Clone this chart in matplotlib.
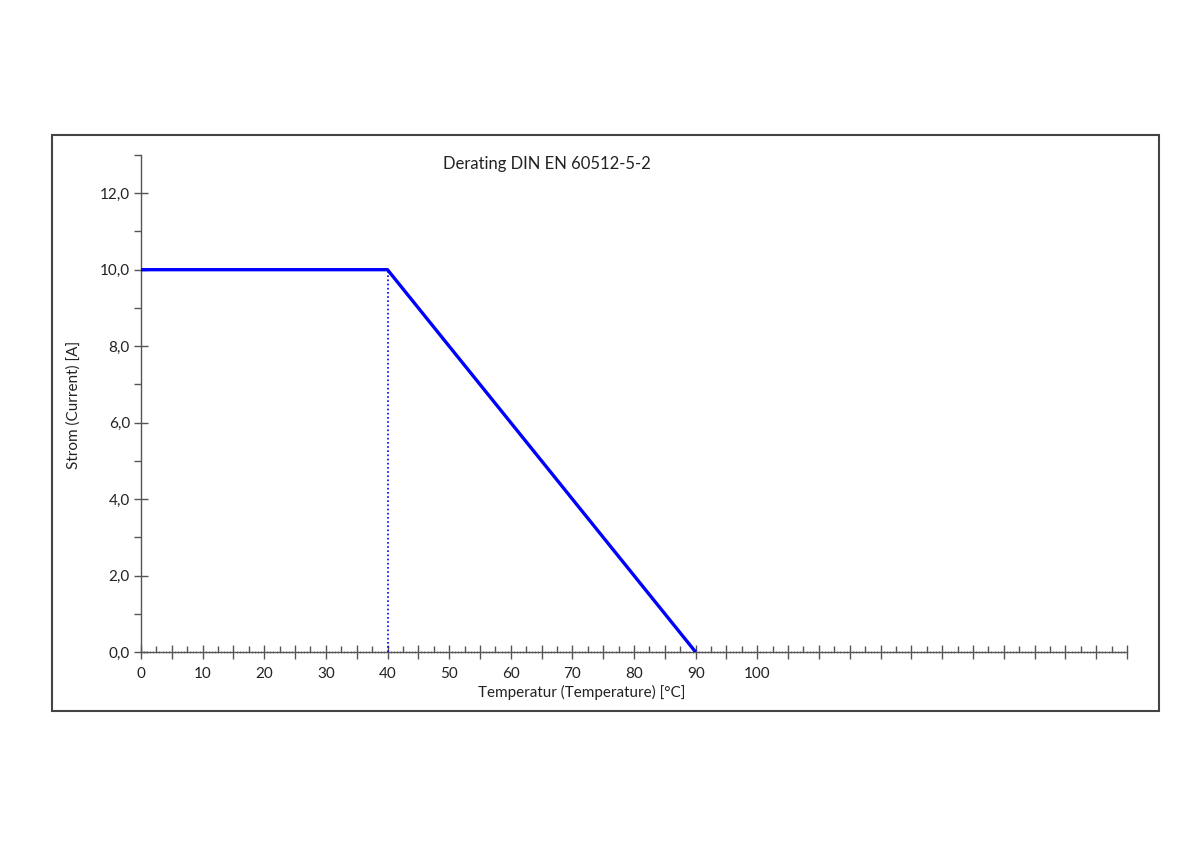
import matplotlib
matplotlib.use("Agg")
import matplotlib.pyplot as plt
from matplotlib.ticker import MultipleLocator, FixedLocator, FuncFormatter
import numpy as np

temperature = [0, 40, 90]
current = [10.0, 10.0, 0.0]
knee_temp = [40, 40]
knee_current = [0.0, 10.0]
x_label_ticks = [0, 10, 20, 30, 40, 50, 60, 70, 80, 90, 100]
title = "Derating DIN EN 60512-5-2"
xlabel = "Temperatur (Temperature) [°C]"
ylabel = "Strom (Current) [A]"

plt.rcParams['font.family'] = ['Lato', 'DejaVu Sans']
txt = '#222222'
axc = '#555555'

fig = plt.figure(figsize=(12, 8.48), dpi=100)
# outer frame
fig.patches.append(plt.Rectangle((52/1200, 1-711/848), (1159-52)/1200, (711-135)/848,
                                 transform=fig.transFigure, fill=False,
                                 edgecolor='#444444', linewidth=1.5))

ax = fig.add_axes([141/1200, 1-652/848, (1127-141)/1200, (652-155)/848])
ax.set_xlim(0, 160)
ax.set_ylim(0, 13)

ax.plot(knee_temp, knee_current, color='#0000FF', linestyle=(0, (1, 1.5)), linewidth=1.2, zorder=3)
ax.plot(temperature, current, color='#0000FF', linewidth=2.4, solid_capstyle='butt', zorder=4)

for s in ['top', 'right']:
    ax.spines[s].set_visible(False)
for s in ['left', 'bottom']:
    ax.spines[s].set_color(axc)
    ax.spines[s].set_linewidth(1.0)

# x ticks
ax.xaxis.set_major_locator(MultipleLocator(5))
ax.xaxis.set_minor_locator(MultipleLocator(2.5))
ax.xaxis.set_major_formatter(FuncFormatter(
    lambda v, p: f"{int(round(v))}" if (round(v) in x_label_ticks and abs(v - round(v)) < 1e-6) else ""))
ax.tick_params(axis='x', which='major', direction='inout', length=10, width=1.0, color=axc,
               labelsize=11, labelcolor=txt, pad=6)
ax.tick_params(axis='x', which='minor', direction='in', length=4, width=1.0, color=axc)

# tiny texture ticks on x axis
sec = ax.secondary_xaxis(0)
sec.xaxis.set_major_locator(MultipleLocator(0.5))
sec.tick_params(axis='x', which='major', direction='inout', length=2, width=0.6, color='#777777',
                labelbottom=False)
sec.spines['bottom'].set_visible(False)
sec.xaxis.set_minor_locator(FixedLocator([]))

# y ticks
ax.yaxis.set_major_locator(MultipleLocator(2))
ax.yaxis.set_minor_locator(MultipleLocator(1))
ax.yaxis.set_major_formatter(FuncFormatter(lambda v, p: f"{v:.1f}".replace('.', ',')))
ax.tick_params(axis='y', which='major', direction='inout', length=10, width=1.0, color=axc,
               labelsize=11, labelcolor=txt, pad=3)
ax.tick_params(axis='y', which='minor', direction='out', length=5, width=1.0, color=axc)

fig.text(547/1200, 1-164/848, title, ha='center', va='center', fontsize=12, color=txt)
fig.text(582/1200, 1-692/848, xlabel, ha='center', va='center', fontsize=11, color=txt)
fig.text(74/1200, 1-405/848, ylabel, ha='center', va='center', fontsize=11, color=txt, rotation=90)

fig.savefig('out.png', dpi=100)
